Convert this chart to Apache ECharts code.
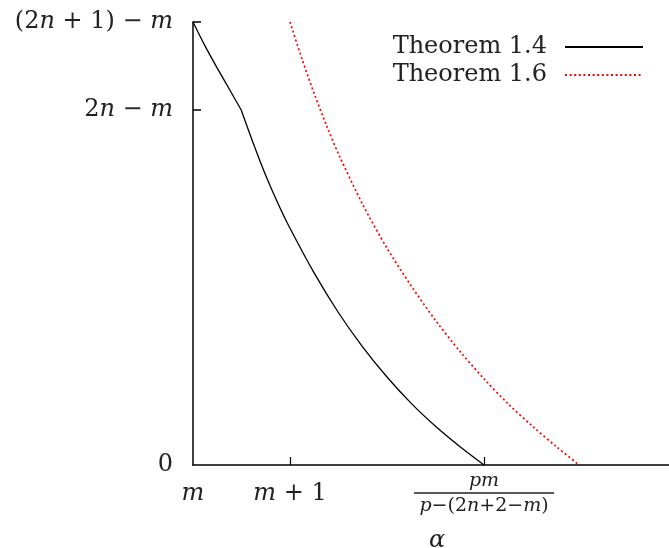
<!DOCTYPE html>
<html>
<head>
<meta charset="utf-8">
<script src="https://cdn.jsdelivr.net/npm/echarts@6/dist/echarts.min.js"></script>
<style>html,body{margin:0;padding:0;background:#fff}#c{width:669px;height:548px}</style>
</head>
<body>
<div id="c"></div>
<script>
// ---- data (x in units of alpha - m, y in units of the bound) ----
// Theorem 1.4, first piece (from (2n+1)-m down to 2n-m)
const thm14aX = [0, 0.125, 0.25, 0.375, 0.497];
const thm14aY = [5.034, 4.76, 4.51, 4.27, 4.034];
// Theorem 1.4, second piece (from 2n-m down to 0)
const thm14bX = [0.497, 0.625, 0.75, 0.875, 1.0, 1.25, 1.5, 1.75, 2.0, 2.25, 2.5, 2.75, 3.0];
const thm14bY = [4.034, 3.645, 3.29, 2.975, 2.69, 2.18, 1.73, 1.34, 1.0, 0.70, 0.44, 0.21, 0];
// Theorem 1.6
const thm16X = [1.0, 1.125, 1.25, 1.375, 1.5, 1.75, 2.0, 2.25, 2.5, 2.75, 3.0, 3.25, 3.5, 3.75, 3.98];
const thm16Y = [5.034, 4.609, 4.219, 3.862, 3.534, 2.959, 2.464, 2.034, 1.644, 1.294, 0.979, 0.694, 0.44, 0.205, 0];
const seriesNames = ['Theorem 1.4', 'Theorem 1.6'];
const xTickValues = [0, 1, 3];
const xTickLabels = ['m', 'm + 1', 'pm / p−(2n+2−m)'];
const yTickValues = [0, 4.034, 5.034];
const yTickLabels = ['0', '2n − m', '(2n + 1) − m'];
const xAxisName = 'α';

const FONT = 'DejaVu Serif';
function mathRich(s, r, i) {
  let out = '';
  let buf = '';
  let cur = null;
  for (const ch of s) {
    const t = /[a-zα]/.test(ch) ? i : r;
    if (t !== cur && buf) { out += '{' + cur + '|' + buf + '}'; buf = ''; }
    cur = t; buf += ch;
  }
  if (buf) out += '{' + cur + '|' + buf + '}';
  return out;
}
function nearestIdx(arr, v) {
  let b = 0;
  for (let k = 1; k < arr.length; k++) if (Math.abs(arr[k] - v) < Math.abs(arr[b] - v)) b = k;
  return b;
}
function xLabel(v) {
  const s = xTickLabels[nearestIdx(xTickValues, v)];
  if (s.indexOf(' / ') >= 0) {
    const [n, d] = s.split(' / ');
    return mathRich(n, 'nr', 'ni') + '\n{hr|}\n' + mathRich(d, 'dr', 'di');
  }
  return mathRich(s, 'r', 'i');
}
function yLabel(v) {
  return mathRich(yTickLabels[nearestIdx(yTickValues, v)], 'r', 'i');
}
const rich = {
  r: { fontFamily: FONT, fontSize: 24, color: '#222', lineHeight: 24 },
  i: { fontFamily: FONT, fontSize: 24, fontStyle: 'italic', color: '#222', lineHeight: 24 },
  nr: { fontFamily: FONT, fontSize: 19, color: '#222', lineHeight: 20 },
  ni: { fontFamily: FONT, fontSize: 19, fontStyle: 'italic', color: '#222', lineHeight: 20 },
  dr: { fontFamily: FONT, fontSize: 19, color: '#222', lineHeight: 22 },
  di: { fontFamily: FONT, fontSize: 19, fontStyle: 'italic', color: '#222', lineHeight: 22 },
  hr: { width: 140, height: 0, borderColor: '#222', borderWidth: 1.3, lineHeight: 4 }
};

const chart = echarts.init(document.getElementById('c'), null, { renderer: 'canvas' });
chart.setOption({
  animation: false,
  backgroundColor: '#fff',
  grid: { left: 193, right: 0, top: 22, bottom: 83, containLabel: false, outerBoundsMode: 'none' },
  legend: {
    orient: 'vertical',
    right: 20,
    top: 30,
    align: 'right',
    itemWidth: 78,
    itemHeight: 14,
    itemGap: 4,
    itemStyle: { opacity: 0 },
    textStyle: { fontFamily: FONT, fontSize: 24, color: '#222', lineHeight: 24, padding: [0, 13, 0, 0] },
    data: seriesNames
  },
  xAxis: {
    type: 'value',
    min: 0,
    max: 4.907,
    name: xAxisName,
    nameLocation: 'middle',
    nameGap: 64,
    nameTextStyle: { fontFamily: FONT, fontSize: 24, fontStyle: 'italic', color: '#222', padding: [0, 0, 0, 12] },
    splitLine: { show: false },
    axisLine: { lineStyle: { color: '#000', width: 1.5 } },
    axisTick: { show: true, inside: true, length: 8, customValues: [1, 3], lineStyle: { color: '#000', width: 1.2 } },
    axisLabel: { customValues: xTickValues, margin: 29, verticalAlign: 'middle', formatter: xLabel, rich: rich, showMinLabel: true, showMaxLabel: true }
  },
  yAxis: {
    type: 'value',
    min: 0,
    max: 5.034,
    splitLine: { show: false },
    axisLine: { show: true, lineStyle: { color: '#000', width: 1.5 } },
    axisTick: { show: true, inside: true, length: 8, customValues: [4.034, 5.034], lineStyle: { color: '#000', width: 1.5 } },
    axisLabel: { customValues: yTickValues, margin: 20, formatter: yLabel, rich: rich, showMinLabel: true, showMaxLabel: true }
  },
  series: [
    {
      name: seriesNames[0],
      type: 'line',
      symbol: 'none',
      smooth: 0.3,
      data: thm14aX.map((x, k) => [x, thm14aY[k]]),
      lineStyle: { color: '#000', width: 1.3 },
      itemStyle: { color: '#000' }
    },
    {
      name: seriesNames[0],
      type: 'line',
      symbol: 'none',
      smooth: 0.3,
      data: thm14bX.map((x, k) => [x, thm14bY[k]]),
      lineStyle: { color: '#000', width: 1.3 },
      itemStyle: { color: '#000' }
    },
    {
      name: seriesNames[1],
      type: 'line',
      symbol: 'none',
      smooth: 0.3,
      data: thm16X.map((x, k) => [x, thm16Y[k]]),
      lineStyle: { color: '#ff0000', width: 1.7, type: [2, 2.6] },
      itemStyle: { color: '#ff0000' }
    }
  ]
});
</script>
</body>
</html>
